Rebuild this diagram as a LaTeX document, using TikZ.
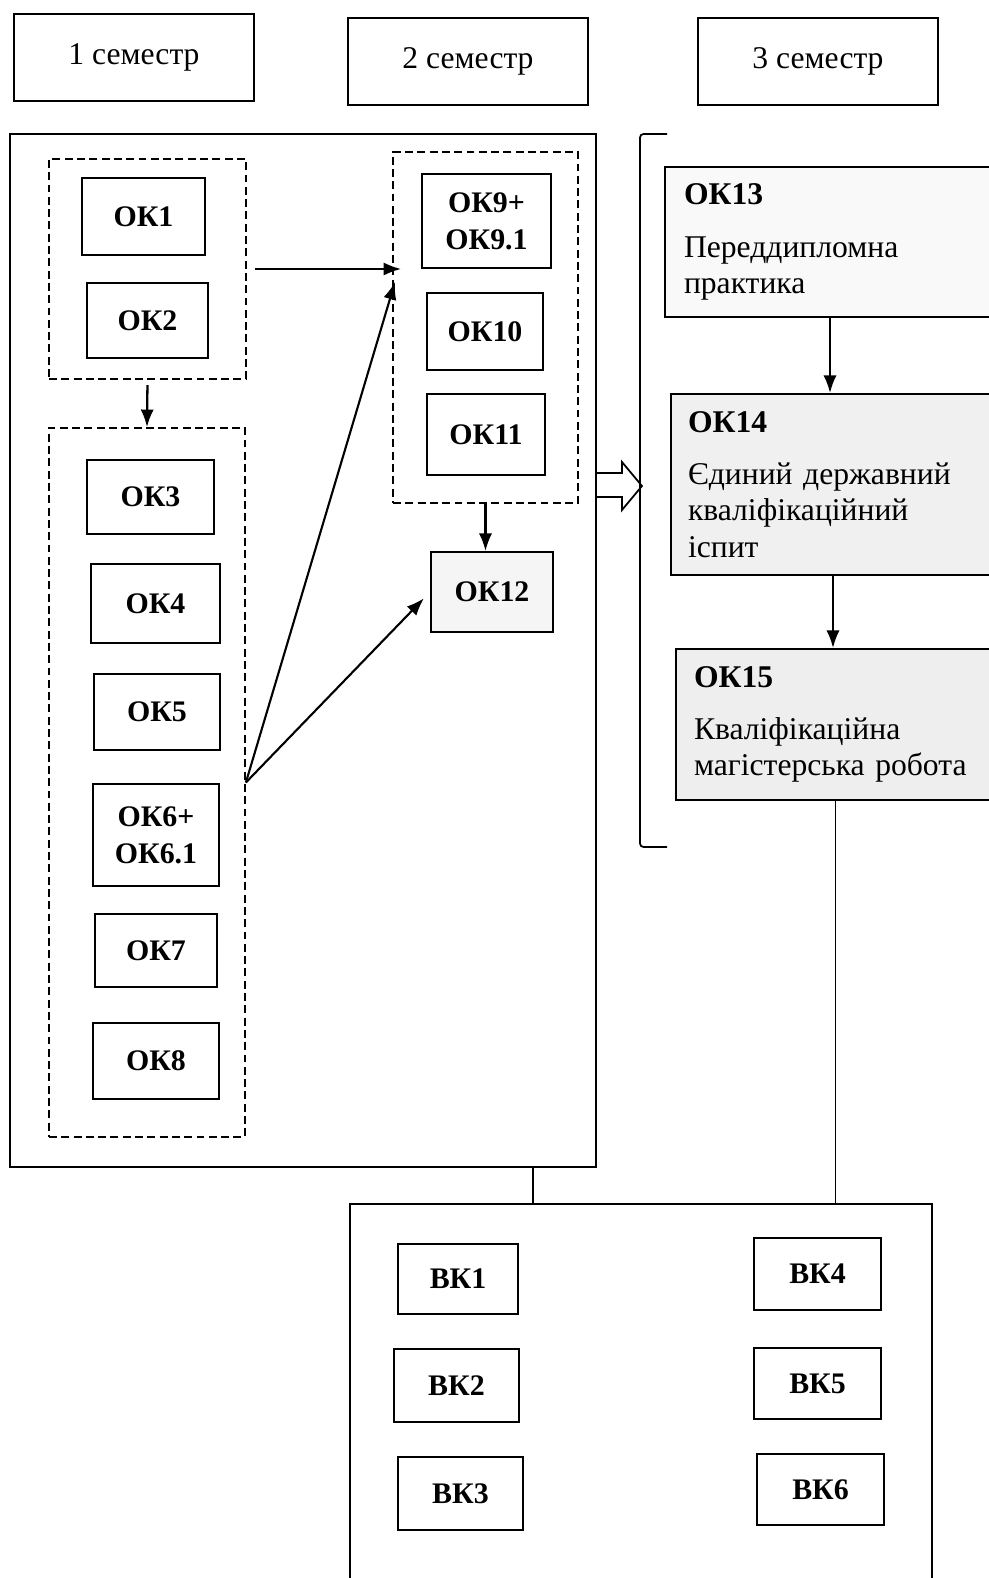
\documentclass[tikz,border=0pt]{standalone}
\usepackage{fontspec}
\setmainfont{Liberation Serif}
\usetikzlibrary{positioning,shapes,arrows.meta}
\def\px{0.02cm}
\tikzstyle{okbox}=[draw,line width=1.1pt,font=\fontsize{17}{21}\selectfont\bfseries,align=center,inner sep=0pt]
\tikzstyle{headbox}=[draw,line width=1.1pt,inner sep=0pt,font=\fontsize{18}{21}\selectfont]
\tikzstyle{grp}=[draw,line width=1pt,dash pattern=on 4.5pt off 2.5pt,inner sep=0pt]
\tikzstyle{frame}=[draw,line width=1pt,inner sep=0pt]
\tikzstyle{descbox}=[draw,line width=1.1pt,align=left,inner ysep=0pt,font=\fontsize{18}{20.7}\selectfont]
\newcommand{\newCourse}[5]{\node[okbox,minimum width=#4*\px,minimum height=#5*\px](#1) at (#3){#2};}
\newcommand{\newLink}[3]{\draw[->,#3] (#1) -- (#2);}

\begin{document}
\begin{tikzpicture}[x=\px,y=-\px,
    >={Latex[length=10pt,width=7.5pt]},line width=1pt,
    font=\fontsize{17}{20.7}\selectfont
    ]
    \useasboundingbox (0,0) rectangle (988,1578);
    % semesters
    \node[headbox,minimum width=240*\px,minimum height=87*\px](sem1) at (134,57.5){1 семестр};
    \node[headbox,minimum width=240*\px,minimum height=87*\px](sem2) at (468,61.5){2 семестр};
    \node[headbox,minimum width=240*\px,minimum height=87*\px](sem3) at (818,61.5){3 семестр};
    % frames
    \node[frame,minimum width=586*\px,minimum height=1033*\px](core) at (303,650.5){};
    \node[grp,minimum width=197*\px,minimum height=220*\px](g1) at (147.5,269){};
    \node[grp,minimum width=196*\px,minimum height=709*\px](g2) at (147,782.5){};
    \node[grp,minimum width=185*\px,minimum height=351*\px](g3) at (485.5,327.5){};
    \node[frame,minimum width=582*\px,minimum height=396*\px](vk) at (641,1402){};
    % 1 semester
    \newCourse{ok1}{ОК1}{143.5,216.5}{123}{77}
    \newCourse{ok2}{ОК2}{147.5,320.5}{121}{75}
    \newCourse{ok3}{ОК3}{150.5,497}{127}{74}
    \newCourse{ok4}{ОК4}{155.5,603.5}{129}{79}
    \newCourse{ok5}{ОК5}{157,712}{126}{76}
    \newCourse{ok6}{ОК6+\\ОК6.1}{156,835}{126}{102}
    \newCourse{ok7}{ОК7}{156,950.5}{122}{73}
    \newCourse{ok8}{ОК8}{156,1061}{126}{76}
    % 2 semester
    \newCourse{ok9}{ОК9+\\ОК9.1}{486.5,221}{129}{94}
    \newCourse{ok10}{ОК10}{485,331.5}{116}{77}
    \newCourse{ok11}{ОК11}{486,434.5}{118}{81}
    \node[okbox,fill=gray!8,minimum width=122*\px,minimum height=80*\px](ok12) at (492,592){ОК12};
    % 3 semester
    \node[descbox,fill=gray!5,text width=292*\px,inner xsep=19*\px,minimum height=150*\px](ok13) at (830,242)
        {\textbf{ОК13}\\[9pt]Переддипломна\\практика};
    \node[descbox,fill=gray!12,text width=290*\px,inner xsep=17*\px,minimum height=181*\px](ok14) at (833,484.5)
        {\textbf{ОК14}\\[9pt]Єдиний державний\\кваліфікаційний\\іспит};
    \node[descbox,fill=gray!13,text width=283*\px,inner xsep=18*\px,minimum height=151*\px](ok15) at (835.5,724.5)
        {\textbf{ОК15}\\[9pt]Кваліфікаційна\\магістерська робота};
    % elective
    \newCourse{vk1}{ВК1}{458,1279}{120}{70}
    \newCourse{vk2}{ВК2}{456.5,1385.5}{125}{73}
    \newCourse{vk3}{ВК3}{460.5,1493.5}{125}{73}
    \newCourse{vk4}{ВК4}{817.5,1274}{127}{72}
    \newCourse{vk5}{ВК5}{817.5,1383.5}{127}{71}
    \newCourse{vk6}{ВК6}{820.5,1489.5}{127}{71}
    % links
    \coordinate (t9) at (395,282);
    \newLink{g1.south}{g2.north}{line width=1.3pt,shorten <=3pt}
    \newLink{[xshift=8*\px]g1.east}{[xshift=9*\px]g1.east -| g3.west}{line width=1.2pt}
    \newLink{g2.east}{t9}{line width=1.2pt}
    \newLink{g2.east}{ok12.west}{line width=1.2pt,shorten >=5pt}
    \newLink{g3.south}{g3.south |- ok12.north}{line width=1.3pt}
    \newLink{ok13.south}{ok13.south |- ok14.north}{line width=1.3pt}
    \newLink{ok14.south}{ok14.south |- ok15.north}{line width=1.3pt}
    \draw[line width=1.6pt] ([xshift=230*\px]core.south) -- ([xshift=230*\px]core.south |- vk.north);
    \draw (ok15.south) -- (ok15.south |- vk.north);
    % bracket and hollow arrow
    \draw[rounded corners=2pt] (667,134) -- (640,134) -- (640,847) -- (667,847);
    \draw[line width=1pt,line join=miter] (596,473) -- (622,473) -- (622,462) -- (642,486)
        -- (622,510) -- (622,497) -- (596,497);
\end{tikzpicture}
\end{document}
